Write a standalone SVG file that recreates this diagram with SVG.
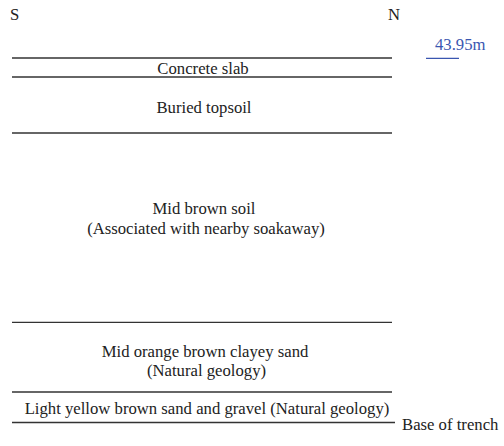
<svg xmlns="http://www.w3.org/2000/svg" width="504" height="446" viewBox="0 0 504 446">
<style>
text{font-family:"Liberation Serif","Times New Roman",serif;font-size:16.7px;fill:#222}
.c{text-anchor:middle}
.ln{stroke:#333;stroke-width:1.3;fill:none}
.blue{fill:#3a56b0}
</style>
<rect width="504" height="446" fill="#fff"/>
<g id="orientation">
<text x="10" y="20">S</text>
<text x="388" y="20">N</text>
</g>
<g id="level">
<text class="blue" x="435" y="50">43.95m</text>
<line x1="426" y1="58.3" x2="459" y2="58.3" stroke="#3a56b0" stroke-width="1.3"/>
</g>
<g id="connectors">
<line class="ln" x1="12" y1="58" x2="392" y2="58"/>
<line class="ln" x1="12" y1="77" x2="392" y2="77"/>
<line class="ln" x1="12" y1="133" x2="392" y2="133"/>
<line class="ln" x1="12" y1="322.3" x2="392" y2="322.3"/>
<line class="ln" x1="12" y1="392" x2="392" y2="392"/>
<line class="ln" x1="12" y1="422.5" x2="395" y2="422.5"/>
</g>
<g id="concrete-slab"><text class="c" x="203" y="74">Concrete slab</text></g>
<g id="buried-topsoil"><text class="c" x="204" y="112.5">Buried topsoil</text></g>
<g id="mid-brown-soil">
<text class="c" x="204" y="214">Mid brown soil</text>
<text class="c" x="206" y="233.5">(Associated with nearby soakaway)</text>
</g>
<g id="mid-orange">
<text class="c" x="205" y="357">Mid orange brown clayey sand</text>
<text class="c" x="206.5" y="375.5">(Natural geology)</text>
</g>
<g id="light-yellow"><text class="c" x="207" y="413.5">Light yellow brown sand and gravel (Natural geology)</text></g>
<g id="base"><text x="402" y="430">Base of trench</text></g>
</svg>
